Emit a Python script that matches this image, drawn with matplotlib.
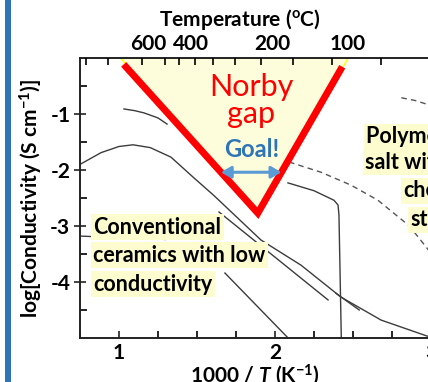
import numpy as np
import matplotlib.pyplot as plt
from matplotlib.patches import Polygon, Rectangle

plt.rcParams['font.family'] = ['Lato', 'DejaVu Sans']
plt.rcParams['font.weight'] = 'bold'
plt.rcParams['axes.labelweight'] = 'bold'
plt.rcParams['axes.unicode_minus'] = False
plt.rcParams['mathtext.fontset'] = 'custom'
plt.rcParams['mathtext.it'] = 'Lato:italic:bold'
plt.rcParams['mathtext.rm'] = 'Lato:bold'

# ---- data (x = 1000/T, y = log sigma) ----
curve_a_x = [1.032, 1.10, 1.16, 1.25, 1.308]
curve_a_y = [-0.91, -0.94, -0.98, -1.07, -1.18]

curve_b_x = [0.75, 0.885, 1.00, 1.09, 1.20, 1.333, 1.48, 1.61, 1.91, 2.167, 2.423, 2.68, 2.99, 3.25]
curve_b_y = [-1.90, -1.69, -1.58, -1.55, -1.60, -1.77, -2.14, -2.46, -3.25, -3.70, -4.27, -4.68, -4.98, -5.2]

curve_c_x = [1.641, 2.34]
curve_c_y = [-2.75, -4.32]

curve_d_x = [2.39, 2.54]
curve_d_y = [-4.20, -4.50]

curve_e_x = [1.679, 2.077]
curve_e_y = [-3.84, -4.98]

curve_f_x = [0.75, 1.3]
curve_f_y = [-3.18, -3.24]

step_x = [2.083, 2.25, 2.378, 2.404, 2.41, 2.425]
step_y = [-2.23, -2.37, -2.54, -2.625, -2.80, -5.0]

dash_a_x = [2.81, 2.90, 2.99, 3.10]
dash_a_y = [-0.71, -0.76, -0.84, -0.93]

dash_b_x = [2.09, 2.295, 2.487, 2.66, 2.853, 2.89, 2.99, 3.10]
dash_b_y = [-1.857, -2.04, -2.27, -2.54, -2.98, -3.10, -3.45, -3.85]

gap_x = [1.01, 2.47, 1.89]
gap_y = [0.0, 0.0, -2.77]
norby_x = [1.045, 1.89, 2.42]
norby_y = [-0.16, -2.77, -0.21]

goal_x = [1.653, 2.041]
goal_y = -2.04

temps_c = [1000, 800, 600, 500, 450, 400, 350, 300, 250, 200, 150, 100]
top_labels = ['600', '400', '200', '100']
top_label_x = [1.185, 1.46, 1.985, 2.465]

fig = plt.figure(figsize=(4.28, 3.82), dpi=100)
fig.patches.append(Rectangle((5 / 428, 0), 6 / 428, 1, transform=fig.transFigure,
                             facecolor='#2e75b6', edgecolor='none', figure=fig))
ax = fig.add_axes([80 / 428, 44 / 382, 390 / 428, 280 / 382])

lc = '#3c3c3c'
ax.add_patch(Polygon(np.column_stack([gap_x, gap_y]), closed=True,
                     facecolor='#fdfddc', edgecolor='#ffff00', lw=1.0, zorder=1))
for xs, ys in [(curve_a_x, curve_a_y), (curve_b_x, curve_b_y), (curve_c_x, curve_c_y),
               (curve_d_x, curve_d_y), (curve_e_x, curve_e_y), (curve_f_x, curve_f_y),
               (step_x, step_y)]:
    ax.plot(xs, ys, color=lc, lw=1.0, zorder=2)
for xs, ys in [(dash_a_x, dash_a_y), (dash_b_x, dash_b_y)]:
    ax.plot(xs, ys, color='#555555', lw=1.0, dashes=(4, 3), zorder=2)

ax.plot(norby_x, norby_y, color='#ff0000', lw=5, solid_joinstyle='miter', zorder=4)
ax.text(1.846, -0.76, 'Norby\ngap', color='#ff0000', fontsize=22, fontweight='normal',
        ha='center', va='center', linespacing=0.95, zorder=5)
ax.annotate('', xy=(goal_x[0], goal_y), xytext=(goal_x[1], goal_y),
            arrowprops=dict(arrowstyle='<|-|>,head_length=0.6,head_width=0.35',
                            color='#5b9bd5', lw=2.2, shrinkA=0, shrinkB=0), zorder=5)
ax.text(1.853, -1.64, 'Goal!', color='#2e75b6', fontsize=17, fontweight='bold',
        ha='center', va='center', zorder=5)

box = dict(boxstyle='square,pad=0.12', facecolor='#fcfccf', edgecolor='none')
for s, y in zip(['Conventional', 'ceramics with low', 'conductivity'], [-3.02, -3.52, -4.04]):
    ax.text(0.835, y, s, fontsize=15.5, fontweight='bold', ha='left', va='center',
            bbox=box, zorder=6)
for s, x, y in zip(['Polymer or', 'salt with', 'chemical', 'stability'],
                   [2.585, 2.578, 2.822, 2.866], [-1.41, -1.86, -2.37, -2.89]):
    ax.text(x, y, s, fontsize=15.5, fontweight='bold', ha='left', va='center',
            bbox=box, zorder=6)

ax.set_xlim(0.75, 3.25)
ax.set_ylim(-5, 0)
ax.set_xticks([1, 2, 3])
ax.set_xticks(np.arange(0.75, 3.26, 0.25), minor=True)
ax.set_yticks([-4, -3, -2, -1])
ax.set_yticks(np.arange(-4.5, 0, 0.5), minor=True)
ax.tick_params(axis='both', which='major', labelsize=15, width=1.2, color='#222222')
ax.tick_params(axis='x', which='both', direction='in', length=5, width=1.2)
ax.tick_params(axis='y', which='major', direction='inout', length=8, pad=3)
ax.tick_params(axis='y', which='minor', direction='in', length=5, width=1.2)
ax.set_xlabel('1000 / $T$ (K$^{-1}$)', fontsize=15, fontweight='bold')
ax.xaxis.set_label_coords((255 - 80) / 390, -0.085)
ax.set_ylabel('log[Conductivity (S cm$^{-1}$)]', fontsize=15, fontweight='bold', labelpad=4)
for lab in ax.get_xticklabels() + ax.get_yticklabels():
    lab.set_fontweight('bold')
for sp in ax.spines.values():
    sp.set_linewidth(1.4)
    sp.set_color('#222222')

ax2 = ax.twiny()
ax2.set_xlim(ax.get_xlim())
ax2.set_xticks(top_label_x, top_labels)
ax2.set_xticks([1000 / (t + 273) for t in temps_c], minor=True)
ax2.tick_params(axis='x', which='major', length=0, labelsize=15, pad=3)
ax2.tick_params(axis='x', which='minor', direction='in', length=5, width=1.2)
ax2.set_xlabel('Temperature ($^{\\rm o}$C)', fontsize=15, fontweight='bold')
ax2.xaxis.set_label_coords((240 - 80) / 390, 1.115)
for lab in ax2.get_xticklabels():
    lab.set_fontweight('bold')
for sp in ax2.spines.values():
    sp.set_visible(False)

fig.savefig('out.png', dpi=100)
